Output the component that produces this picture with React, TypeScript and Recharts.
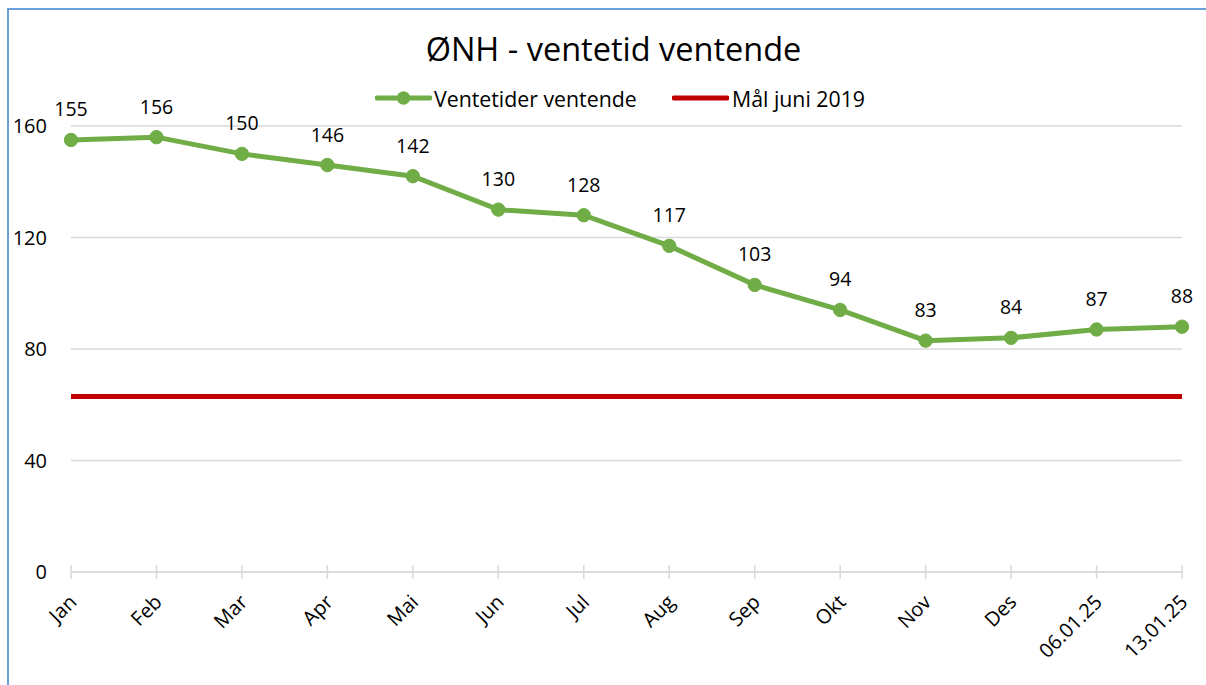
import React from "react";
import { LineChart, Line, XAxis, YAxis, CartesianGrid, LabelList } from "recharts";

const categories = ["Jan", "Feb", "Mar", "Apr", "Mai", "Jun", "Jul", "Aug", "Sep", "Okt", "Nov", "Des", "06.01.25", "13.01.25"];
const ventetider = [155, 156, 150, 146, 142, 130, 128, 117, 103, 94, 83, 84, 87, 88];
const maal = [63, 63, 63, 63, 63, 63, 63, 63, 63, 63, 63, 63, 63, 63];
const yTicks = [0, 40, 80, 120, 160];

const data = categories.map((c, i) => ({ cat: c, v: ventetider[i], m: maal[i] }));

const FONT = "'Open Sans', Lato, sans-serif";
const GREEN = "#70AD47";
const RED = "#C00000";
const GRID = "#D9D9D9";

const XTick = (props: any) => {
  const { x, y, payload } = props;
  const axisY = y - 7;
  const tx = x + 1.5;
  const ty = axisY + 26;
  return (
    <g>
      <line x1={x} x2={x} y1={axisY - 7} y2={axisY + 7} stroke={GRID} strokeWidth={1.5} />
      <text
        x={tx}
        y={ty}
        textAnchor="end"
        dominantBaseline="central"
        transform={`rotate(-45, ${tx}, ${ty})`}
        fontSize={20}
        fontFamily={FONT}
        fill="#000"
      >
        {payload.value}
      </text>
    </g>
  );
};

const ValueLabel = (props: any) => {
  const { x, y, value } = props;
  return (
    <text x={x} y={y - 31} textAnchor="middle" dominantBaseline="central" fontSize={19.5} fontFamily={FONT} fill="#000">
      {value}
    </text>
  );
};

export default function App() {
  return (
    <div style={{ position: "absolute", left: 0, top: 0, width: 1206, height: 685, background: "#fff", overflow: "hidden" }}>
      <div
        style={{
          position: "absolute",
          left: 7,
          top: 8,
          width: 1199,
          height: 677,
          boxSizing: "border-box",
          borderLeft: "2px solid #6A9FDB",
          borderTop: "2px solid #6A9FDB",
        }}
      />
      <div
        style={{
          position: "absolute",
          left: 0,
          top: 29,
          width: 1227,
          textAlign: "center",
          fontFamily: FONT,
          fontSize: 32.5,
          color: "#000",
          lineHeight: "40px",
          whiteSpace: "nowrap",
        }}
      >
        ØNH - ventetid ventende
      </div>
      <div style={{ position: "absolute", left: 375, top: 86, height: 24, display: "flex", alignItems: "center", fontFamily: FONT, fontSize: 21.3, whiteSpace: "nowrap" }}>
        <svg width={57} height={24} style={{ display: "block" }}>
          <line x1={2} x2={55} y1={12} y2={12} stroke={GREEN} strokeWidth={5} strokeLinecap="round" />
          <circle cx={28.5} cy={12} r={6.7} fill={GREEN} />
        </svg>
        <span style={{ marginLeft: 2 }}>Ventetider ventende</span>
      </div>
      <div style={{ position: "absolute", left: 672, top: 86, height: 24, display: "flex", alignItems: "center", fontFamily: FONT, fontSize: 21.3, whiteSpace: "nowrap" }}>
        <svg width={57} height={24} style={{ display: "block" }}>
          <line x1={2} x2={55} y1={12} y2={12} stroke={RED} strokeWidth={5} strokeLinecap="round" />
        </svg>
        <span style={{ marginLeft: 3 }}>Mål juni 2019</span>
      </div>
      <div style={{ position: "absolute", left: 0, top: 0 }}>
        <LineChart width={1206} height={685} data={data} margin={{ top: 126, right: 24, bottom: 13, left: 0 }}>
          <CartesianGrid vertical={false} stroke={GRID} strokeWidth={1.5} />
          <XAxis
            dataKey="cat"
            height={100}
            interval={0}
            axisLine={{ stroke: GRID, strokeWidth: 1.5 }}
            tickLine={false}
            tickSize={7}
            tickMargin={0}
            tick={<XTick />}
          />
          <YAxis
            width={71}
            domain={[0, 160]}
            ticks={yTicks}
            axisLine={false}
            tickLine={false}
            tickSize={0}
            tickMargin={24}
            tick={{ fontSize: 20, fontFamily: FONT, fill: "#000" }}
          />
          <Line
            dataKey="m"
            stroke={RED}
            strokeWidth={5}
            dot={false}
            activeDot={false}
            isAnimationActive={false}
          />
          <Line
            dataKey="v"
            stroke={GREEN}
            strokeWidth={5}
            dot={{ r: 6.7, fill: GREEN, stroke: GREEN, strokeWidth: 1 }}
            activeDot={false}
            isAnimationActive={false}
          >
            <LabelList dataKey="v" content={<ValueLabel />} />
          </Line>
        </LineChart>
      </div>
    </div>
  );
}
